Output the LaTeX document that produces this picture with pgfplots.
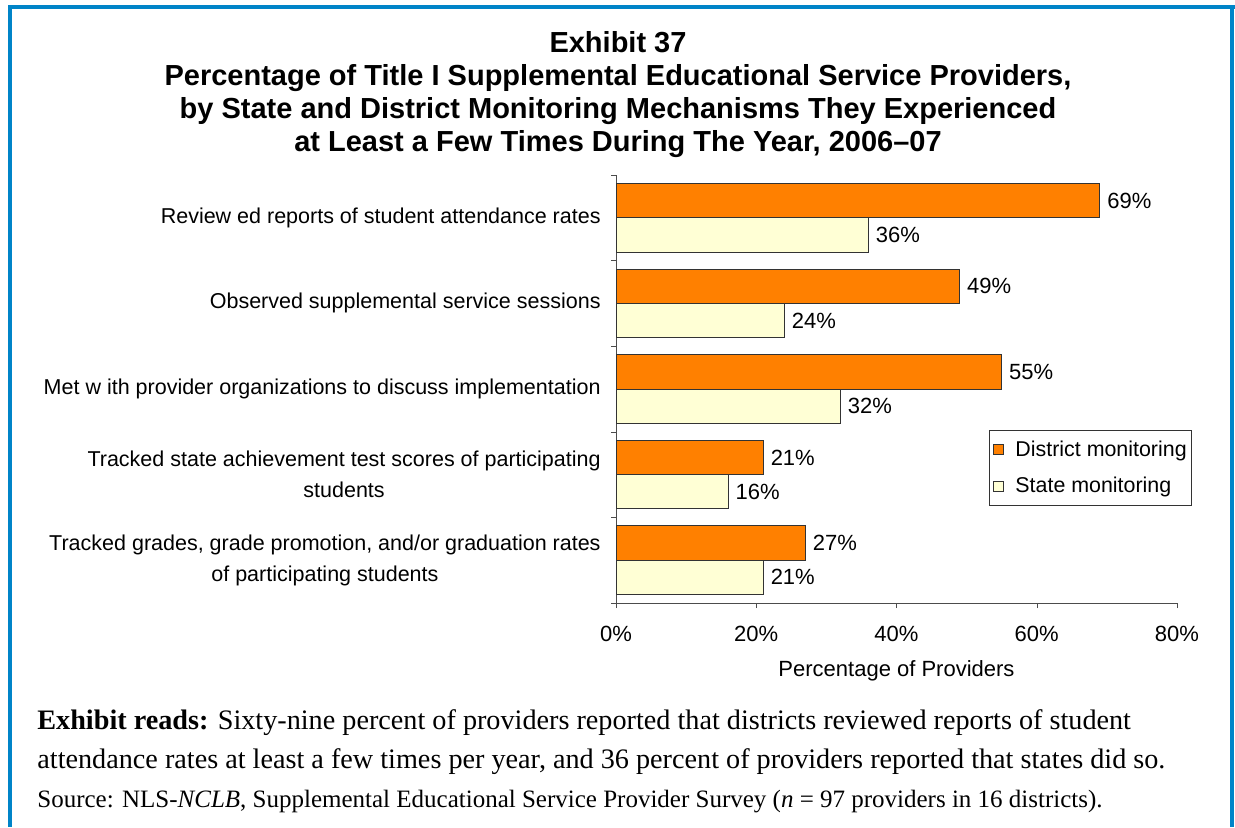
\documentclass[border=0pt]{standalone}
\usepackage{pgfplots}
\pgfplotsset{compat=1.18}
\usepackage{fontspec}
\setmainfont{Liberation Sans}
\newfontfamily\seriffont{Liberation Serif}
\definecolor{distorange}{RGB}{255,128,0}
\definecolor{stateyellow}{RGB}{255,255,213}
\definecolor{borderblue}{RGB}{0,132,200}
\begin{document}
\begin{tikzpicture}
\path[use as bounding box] (0,0) rectangle (617.5pt,-413.5pt);
% border
\fill[borderblue] (4pt,-2.5pt) rectangle (617.5pt,-4.5pt);
\fill[borderblue] (4pt,-2.5pt) rectangle (6pt,-413.5pt);
\fill[borderblue] (614.75pt,-2.5pt) rectangle (616.75pt,-413.5pt);
% title
\begin{scope}[every node/.style={anchor=base, font=\fontsize{14.5}{16.5}\selectfont\bfseries, inner sep=0pt}]
\node at (309pt,-26.25pt) {Exhibit 37};
\node at (309pt,-42.75pt) {Percentage of Title I Supplemental Educational Service Providers,};
\node at (309pt,-59.25pt) {by State and District Monitoring Mechanisms They Experienced};
\node at (309pt,-75.75pt) {at Least a Few Times During The Year, 2006--07};
\end{scope}
\begin{axis}[
  at={(308pt,-301.5pt)}, anchor=south west,
  scale only axis, width=280.5pt, height=214pt,
  xbar, bar width=0.4,
  xmin=0, xmax=80, ymin=0.5, ymax=5.5,
  /pgf/number format/assume math mode=true,
  font=\fontsize{11}{15.5}\selectfont,
  xtick={0,20,40,60,80},
  xticklabel={\pgfmathprintnumber{\tick}\%},
  xticklabel style={yshift=-5.5pt, font=\fontsize{11}{13}\selectfont},
  ytick={1,2,3,4,5},
  yticklabels={{Tracked grades, grade promotion, and/or graduation rates\\of participating students},
               {Tracked state achievement test scores of participating\\students},
               {Met w ith provider organizations to discuss implementation},
               {Observed supplemental service sessions},
               {Review ed reports of student attendance rates}},
  yticklabel style={align=center, font=\fontsize{10.75}{15.5}\selectfont, inner sep=0pt, xshift=-5pt},
  minor ytick={0.5,1.5,2.5,3.5,4.5,5.5},
  axis x line*=bottom, axis y line*=left,
  axis line style={black!70},
  tick align=outside,
  major tick length=2.5pt, minor tick length=2.5pt,
  major y tick style={draw=none},
  minor y tick style={draw=black!70},
  major x tick style={draw=black!70},
  xlabel={Percentage of Providers},
  xlabel style={font=\fontsize{11}{13}\selectfont, yshift=-2.5pt},
  point meta=x,
  nodes near coords={\pgfmathprintnumber{\pgfplotspointmeta}\%},
  nodes near coords style={anchor=west, inner sep=0pt, xshift=3.5pt, font=\fontsize{11}{13}\selectfont},
  clip=false,
  legend style={at={(0.665,0.404)}, anchor=north west, draw=black!80,
    font=\fontsize{10.7}{13}\selectfont, row sep=5pt, inner xsep=0pt, inner ysep=3pt,
    nodes={inner xsep=2.5pt}},
  legend cell align=left,
  legend image code/.code={\draw[#1, draw=black!80, line width=0.5pt] (2pt,-2.5pt) rectangle (7pt,2.5pt);
    \path[draw=none, fill=none] (0pt,0pt) -- (10.5pt,0pt);},
]
\addplot[fill=distorange, draw=black!80, line width=0.5pt, bar shift=0.2] coordinates {(27,1) (21,2) (55,3) (49,4) (69,5)};
\addplot[fill=stateyellow, draw=black!80, line width=0.5pt, bar shift=-0.2] coordinates {(21,1) (16,2) (32,3) (24,4) (36,5)};
\legend{District monitoring, State monitoring}
\end{axis}
% footer
\node[anchor=base west, inner sep=0pt, font=\seriffont\fontsize{14.1}{16}\selectfont] at (18.5pt,-364.5pt)
  {\textbf{Exhibit reads:} Sixty-nine percent of providers reported that districts reviewed reports of student};
\node[anchor=base west, inner sep=0pt, font=\seriffont\fontsize{14.1}{16}\selectfont] at (18.5pt,-384pt)
  {attendance rates at least a few times per year, and 36 percent of providers reported that states did so.};
\node[anchor=base west, inner sep=0pt, font=\seriffont\fontsize{12.5}{14}\selectfont] at (18.5pt,-403.5pt)
  {Source: NLS-\textit{NCLB}, Supplemental Educational Service Provider Survey (\textit{n} = 97 providers in 16 districts).};
\end{tikzpicture}
\end{document}
